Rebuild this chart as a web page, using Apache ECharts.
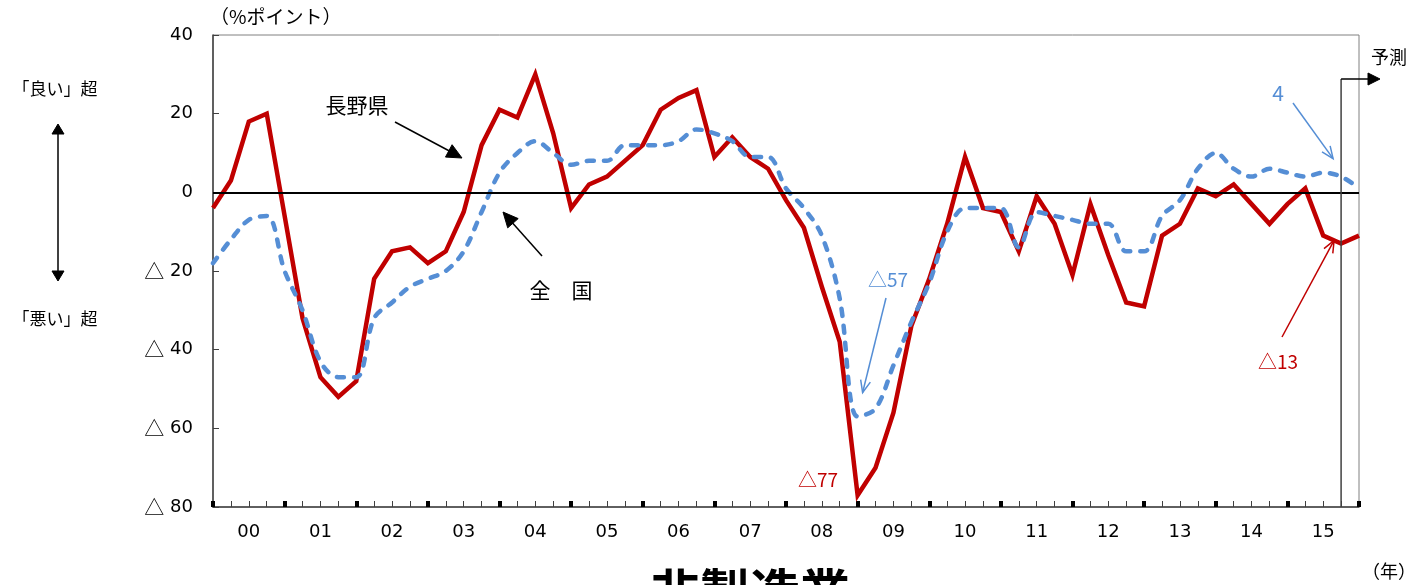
<!DOCTYPE html>
<html>
<head>
<meta charset="utf-8">
<script src="https://cdn.jsdelivr.net/npm/echarts@6/dist/echarts.min.js"></script>
<style>
html,body{margin:0;padding:0;background:#fff;}
#c{width:1418px;height:585px;}
</style>
</head>
<body>
<div id="c"></div>
<script>
// ---- data ----
var quarters = [
 '2000Q1','2000Q2','2000Q3','2000Q4','2001Q1','2001Q2','2001Q3','2001Q4',
 '2002Q1','2002Q2','2002Q3','2002Q4','2003Q1','2003Q2','2003Q3','2003Q4',
 '2004Q1','2004Q2','2004Q3','2004Q4','2005Q1','2005Q2','2005Q3','2005Q4',
 '2006Q1','2006Q2','2006Q3','2006Q4','2007Q1','2007Q2','2007Q3','2007Q4',
 '2008Q1','2008Q2','2008Q3','2008Q4','2009Q1','2009Q2','2009Q3','2009Q4',
 '2010Q1','2010Q2','2010Q3','2010Q4','2011Q1','2011Q2','2011Q3','2011Q4',
 '2012Q1','2012Q2','2012Q3','2012Q4','2013Q1','2013Q2','2013Q3','2013Q4',
 '2014Q1','2014Q2','2014Q3','2014Q4','2015Q1','2015Q2','2015Q3','2015Q4',
 '2016Q1'
];
var yearLabels = ['00','01','02','03','04','05','06','07','08','09','10','11','12','13','14','15'];
var naganoValues = [
 -4, 3, 18, 20, -6, -32, -47, -52,
 -48, -22, -15, -14, -18, -15, -5, 12,
 21, 19, 30, 15, -4, 2, 4, 8,
 12, 21, 24, 26, 9, 14, 9, 6,
 -2, -9, -24, -38, -77, -70, -56, -34,
 -22, -8, 9, -4, -5, -15, -1, -8,
 -21, -3, -16, -28, -29, -11, -8, 1,
 -1, 2, -3, -8, -3, 1, -11, -13,
 -11
];
var nationalValues = [
 -18, -12, -7, -6, -20, -30, -43, -47,
 -47, -32, -28, -24, -22, -20, -15, -5,
 5, 10, 13, 10, 7, 8, 8, 12,
 12, 12, 13, 16, 15, 13, 9, 9,
 1, -4, -11, -27, -57, -55, -44, -33,
 -23, -10, -4, -4, -4, -14, -5, -6,
 -7, -8, -8, -15, -15, -6, -2, 6,
 10, 6, 4, 6, 5, 4, 5, 4,
 1
];
var yTicks = [-80, -60, -40, -20, 0, 20, 40];
var forecastIndex = 63;

var RED = '#C00000', BLUE = '#558ED5';
var FONT = '"Noto Sans CJK JP", "Noto Sans", sans-serif';
var NUMFONT = '"DejaVu Sans", "Noto Sans CJK JP", sans-serif';

var chart = echarts.init(document.getElementById('c'));

function yFmt(v){ return v < 0 ? '{t|\u25B3} ' + (-v) : String(v); }

var option = {
  animation: false,
  backgroundColor: '#fff',
  textStyle: { fontFamily: FONT },
  grid: { left: 213, right: 59, top: 35, bottom: 78, show: true, borderColor: '#808080', borderWidth: 1 },
  xAxis: [
    {
      type: 'category', data: quarters, boundaryGap: false, position: 'bottom',
      axisLine: { show: true, onZero: false, lineStyle: { color: '#404040', width: 1.5 } },
      axisTick: { show: true, inside: true, length: 6, interval: 0, lineStyle: { color: '#404040', width: 1 } },
      axisLabel: {
        interval: function (i) { return i % 4 === 2; },
        formatter: function (v, i) { return yearLabels[(i - 2) / 4]; },
        color: '#000', fontSize: 18, fontFamily: NUMFONT, margin: 16
      },
      splitLine: { show: false }
    },
    {
      type: 'category', data: quarters, boundaryGap: false, position: 'bottom', offset: 0,
      axisLine: { show: false, onZero: false },
      axisTick: { show: true, inside: true, length: 6, interval: function (i) { return i % 4 === 0; }, lineStyle: { color: '#000', width: 4 } },
      axisLabel: { show: false },
      splitLine: { show: false }
    }
  ],
  yAxis: {
    type: 'value', min: -80, max: 40, interval: 20,
    axisLine: { show: true, lineStyle: { color: '#404040', width: 1.5 } },
    axisTick: { show: true, inside: true, length: 6, lineStyle: { color: '#404040' } },
    axisLabel: {
      formatter: yFmt, color: '#000', fontSize: 18, fontFamily: NUMFONT, margin: 20,
      rich: { t: { fontFamily: FONT, fontSize: 20, color: '#000' } }
    },
    splitLine: { show: false }
  },
  series: [
    {
      name: '長野県', type: 'line', data: naganoValues, xAxisIndex: 0,
      symbol: 'none', smooth: false,
      lineStyle: { color: RED, width: 4.5, join: 'miter' },
      markLine: {
        silent: true, symbol: 'none', label: { show: false },
        lineStyle: { color: '#000', width: 2, type: 'solid' },
        data: [{ yAxis: 0 }]
      },
      z: 2
    },
    {
      name: '全国', type: 'line', data: nationalValues, xAxisIndex: 0,
      symbol: 'none', smooth: 0.35,
      lineStyle: { color: BLUE, width: 4.5, type: [7, 10], cap: 'round' },
      z: 3
    }
  ]
};
chart.setOption(option);

// ---- annotations ----
function arrowHead(x1, y1, x2, y2, len, half, filled, color, lw) {
  var ang = Math.atan2(y2 - y1, x2 - x1);
  var bx = x2 - len * Math.cos(ang), by = y2 - len * Math.sin(ang);
  var px = -Math.sin(ang) * half, py = Math.cos(ang) * half;
  var p1 = [bx + px, by + py], p2 = [bx - px, by - py];
  if (filled) {
    return { type: 'polygon', shape: { points: [[x2, y2], p1, p2] }, style: { fill: color, stroke: color, lineWidth: 1 }, z: 100 };
  }
  return { type: 'polyline', shape: { points: [p1, [x2, y2], p2] }, style: { stroke: color, lineWidth: lw, fill: null }, z: 100 };
}
function line(x1, y1, x2, y2, color, lw) {
  return { type: 'line', shape: { x1: x1, y1: y1, x2: x2, y2: y2 }, style: { stroke: color, lineWidth: lw }, z: 100 };
}
function text(str, x, y, size, color, opts) {
  opts = opts || {};
  return {
    type: 'text', x: x, y: y, z: 100,
    style: {
      text: str, fill: color, font: (opts.bold ? 'bold ' : '') + size + 'px ' + (opts.font || FONT),
      textAlign: opts.align || 'center', textVerticalAlign: opts.valign || 'middle'
    }
  };
}

var fx = chart.convertToPixel({ xAxisIndex: 0 }, forecastIndex);
var yBottom = chart.convertToPixel({ yAxisIndex: 0 }, -80);
var tipRed = chart.convertToPixel({ seriesIndex: 0 }, [forecastIndex, naganoValues[forecastIndex]]);
var tipBlue = chart.convertToPixel({ seriesIndex: 1 }, [forecastIndex, nationalValues[forecastIndex]]);
var minRedIdx = naganoValues.indexOf(Math.min.apply(null, naganoValues));
var minBlueIdx = nationalValues.indexOf(Math.min.apply(null, nationalValues));
var tip57 = chart.convertToPixel({ seriesIndex: 1 }, [minBlueIdx, nationalValues[minBlueIdx]]);

var g = [];
g.push(text('（%ポイント）', 210, 17, 19, '#000', { align: 'left' }));
g.push(text('「良い」超', 55, 89, 17, '#000'));
g.push(text('「悪い」超', 55, 319, 17, '#000'));
g.push(line(58, 132, 58, 273, '#000', 1.5));
g.push(arrowHead(58, 200, 58, 124, 10, 6, true, '#000'));
g.push(arrowHead(58, 200, 58, 281, 10, 6, true, '#000'));

g.push(text('長野県', 357, 105, 21, '#000'));
g.push(line(395, 122, 455, 154, '#000', 1.5));
g.push(arrowHead(395, 122, 462, 158, 15, 7, true, '#000'));
g.push(text('全　国', 561, 290, 21, '#000'));
g.push(line(542, 256, 509, 219, '#000', 1.5));
g.push(arrowHead(542, 256, 503, 212, 15, 7, true, '#000'));

g.push(text('\u25B3' + (-nationalValues[minBlueIdx]), 888, 280, 19, BLUE));
g.push(line(886, 298, tip57[0] + 5, tip57[1] - 24, BLUE, 1.5));
g.push(arrowHead(886, 298, tip57[0] + 5, tip57[1] - 24, 12, 5, false, BLUE, 1.5));
g.push(text('\u25B3' + (-naganoValues[minRedIdx]), 818, 480, 19, RED));

g.push(text(String(nationalValues[forecastIndex]), 1278, 93, 21, BLUE));
g.push(line(1293, 103, tipBlue[0] - 8, tipBlue[1] - 18, BLUE, 1.5));
g.push(arrowHead(1293, 103, tipBlue[0] - 8, tipBlue[1] - 18, 12, 5, false, BLUE, 1.5));
g.push(text('\u25B3' + (-naganoValues[forecastIndex]), 1278, 362, 19, RED));
g.push(line(1282, 337, tipRed[0] - 7, tipRed[1] - 3, RED, 1.5));
g.push(arrowHead(1282, 337, tipRed[0] - 7, tipRed[1] - 3, 12, 5, false, RED, 1.5));

g.push(line(fx, yBottom, fx, 79, '#404040', 1.5));
g.push(line(fx, 79, 1368, 79, '#000', 1.5));
g.push(arrowHead(fx, 79, 1380, 79, 12, 6, true, '#000'));
g.push(text('予測', 1389, 57, 18, '#000'));
g.push(text('（年）', 1389, 571, 18, '#000'));
g.push(text('非製造業', 750, 567, 50, '#000', { bold: true, valign: 'top' }));

chart.setOption({ graphic: g });
</script>
</body>
</html>
